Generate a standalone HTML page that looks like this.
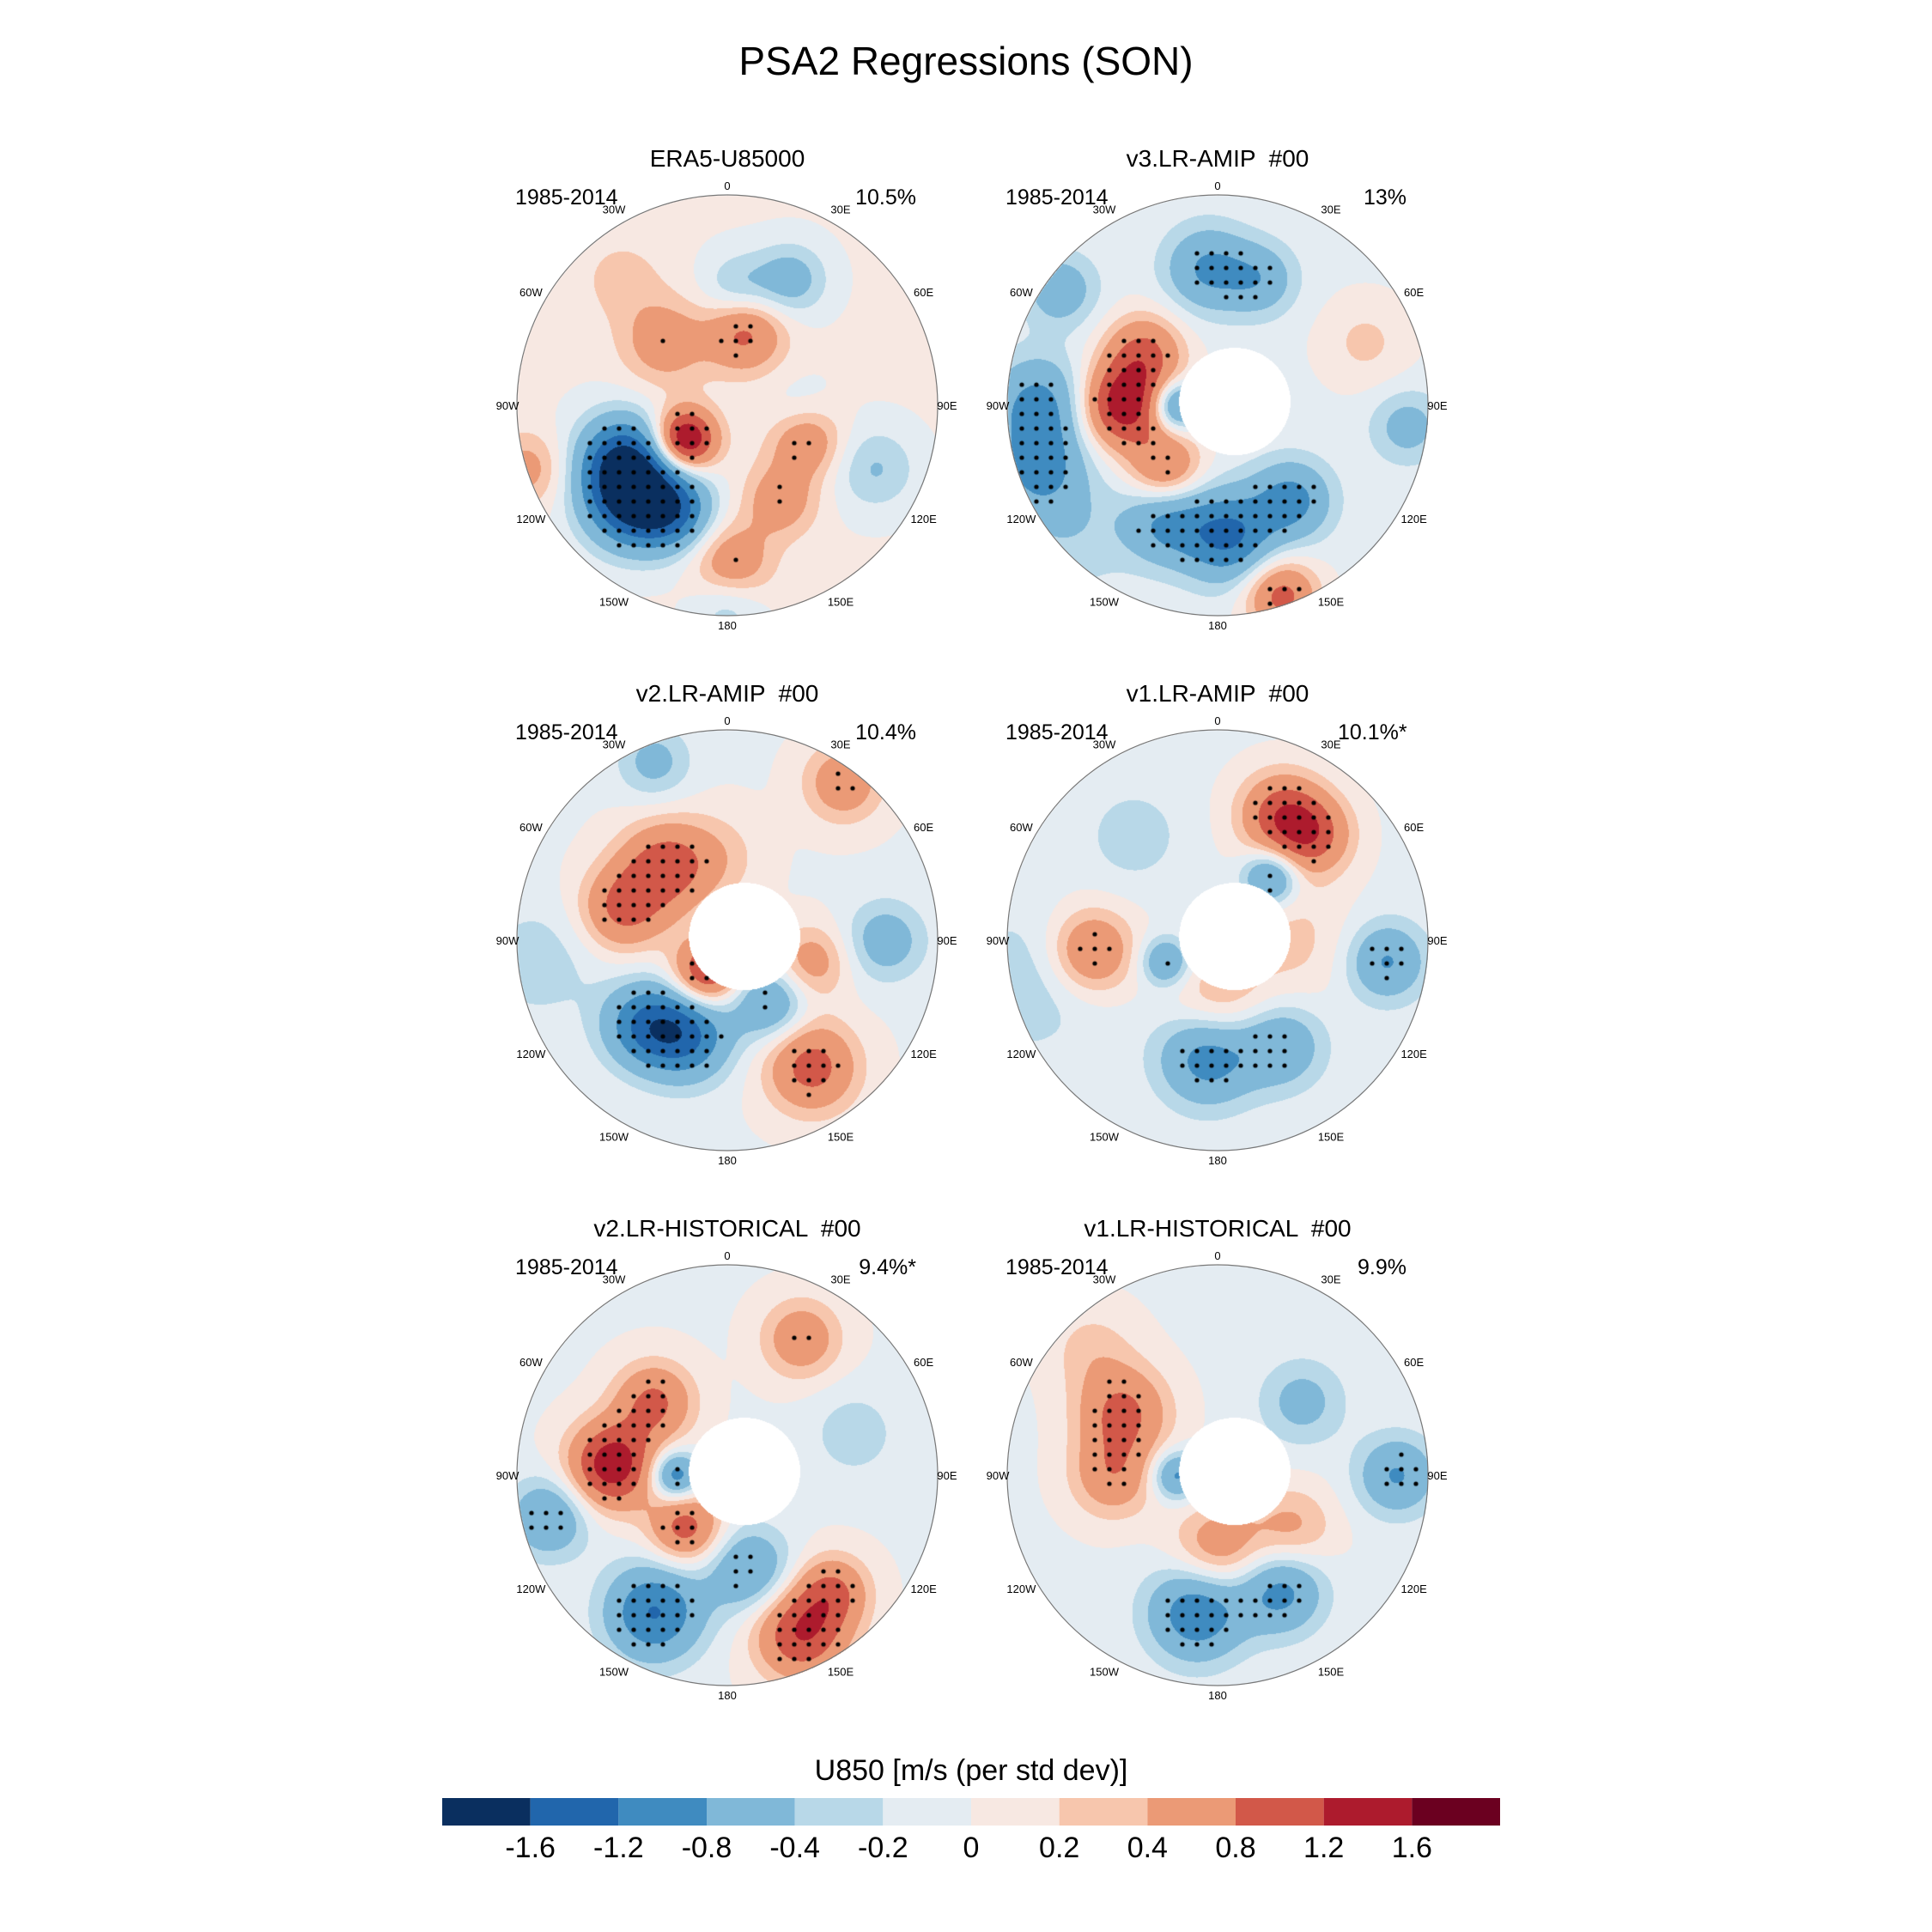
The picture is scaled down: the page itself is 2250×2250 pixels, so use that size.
<!DOCTYPE html>
<html><head><meta charset="utf-8">
<style>
html,body{margin:0;padding:0;background:#fff;}
#root{position:relative;width:2250px;height:2250px;overflow:hidden;font-family:"Liberation Sans",sans-serif;color:#000;}
.t{position:absolute;white-space:pre;}
</style></head>
<body>
<div id="root">
<div class="t" style="left:0;width:2250px;text-align:center;top:44px;font-size:46px;">PSA2 Regressions (SON)</div>
<svg id="svg" width="2250" height="2250" style="position:absolute;left:0;top:0"></svg>
</div>
<script>
// ---- colour scale data ----
const levels = [-1.6,-1.2,-0.8,-0.4,-0.2,0,0.2,0.4,0.8,1.2,1.6];
const levelLabels = ["-1.6","-1.2","-0.8","-0.4","-0.2","0","0.2","0.4","0.8","1.2","1.6"];
const colors = ["#0a2f5f","#2166ac","#3f8bc0","#80b8d8","#b8d8e8","#e4ecf2","#f7e8e2","#f7c6ad","#eb9a76","#d25849","#ad1b2d","#6b0020"];
// ---- panel data ----
const panelTitles = ["ERA5-U85000","v3.LR-AMIP  #00","v2.LR-AMIP  #00","v1.LR-AMIP  #00","v2.LR-HISTORICAL  #00","v1.LR-HISTORICAL  #00"];
const panelPeriods = ["1985-2014","1985-2014","1985-2014","1985-2014","1985-2014","1985-2014"];
const panelPercents = ["10.5%","13%","10.4%","10.1%*","9.4%*","9.9%"];
const panelHasLand = [false,true,true,true,true,true];
const panelBase = [0.03,-0.05,-0.02,-0.04,-0.02,-0.03];
const lonLabels = ["0","30E","60E","90E","120E","150E","180","150W","120W","90W","60W","30W"];
// anomaly centres (normalized map coords), amplitudes and widths per panel
const blobX = [
 [-0.5,-0.45,-0.25,-0.2,0.08,-0.3,0.3,0.05,0.37,0.25,0.02,-0.95,0.7,-0.5,0.35,0.0],
 [-0.85,-0.85,-0.45,-0.35,-0.25,-0.2,0.05,-0.25,0.35,0.3,-0.05,0.2,-0.75,0.9,0.7,-0.7],
 [-0.3,-0.5,-0.1,-0.2,-0.4,0.2,0.4,0.4,0.75,0.55,-0.35,-0.05,-0.9],
 [0.3,0.45,0.25,-0.6,-0.25,0.0,-0.05,0.3,0.8,-0.4,0.35,-0.9],
 [-0.55,-0.35,-0.2,-0.25,-0.85,-0.35,0.1,0.35,0.5,0.35,0.6],
 [-0.45,-0.5,-0.2,0.0,0.35,-0.1,0.3,0.85,0.4,-0.6]
];
const blobY = [
 [0.25,0.45,0.5,0.16,-0.35,-0.3,-0.6,-0.55,0.16,0.45,0.75,0.3,0.3,-0.6,0.05,0.95],
 [0.0,0.3,0.0,-0.25,0.3,0.0,0.62,0.55,0.45,0.9,-0.65,-0.6,-0.55,0.1,-0.3,0.6],
 [-0.35,-0.15,0.15,0.45,0.4,0.3,0.6,0.1,0.0,-0.75,-0.85,-0.4,0.1],
 [-0.6,-0.5,-0.3,0.05,0.1,0.3,0.55,0.5,0.1,-0.5,0.0,0.2],
 [-0.05,-0.35,0.25,0.0,0.2,0.65,0.45,0.75,0.55,-0.65,-0.2],
 [-0.3,0.0,0.0,0.35,0.25,0.65,0.55,0.0,-0.35,-0.6]
];
const blobAmp = [
 [-1.3,-1.7,-1.0,1.7,0.9,0.6,-0.6,-0.5,0.8,0.6,0.7,0.5,-0.45,0.25,-0.3,-0.4],
 [-0.9,-0.8,1.5,0.9,0.9,-1.1,-1.2,-0.8,-0.9,1.0,-0.8,-0.6,-0.6,-0.5,0.3,-0.3],
 [1.0,0.9,1.3,-1.2,-1.0,-0.8,1.0,0.6,-0.6,0.7,-0.5,0.3,-0.3],
 [1.0,0.9,-1.0,0.9,-0.8,0.5,-1.0,-0.7,-0.8,-0.3,0.3,-0.3],
 [1.5,0.9,1.0,-1.1,-0.8,-1.2,-0.8,1.2,0.8,0.7,-0.3],
 [0.9,0.7,-0.9,0.7,0.5,-1.1,-0.9,-0.8,-0.5,0.3]
];
const blobSig = [
 [0.15,0.16,0.13,0.1,0.13,0.14,0.12,0.12,0.12,0.12,0.13,0.12,0.14,0.15,0.12,0.12],
 [0.16,0.15,0.14,0.13,0.12,0.08,0.15,0.14,0.13,0.12,0.14,0.12,0.12,0.12,0.15,0.2],
 [0.15,0.14,0.11,0.15,0.14,0.12,0.15,0.12,0.13,0.13,0.12,0.15,0.2],
 [0.14,0.13,0.09,0.14,0.08,0.16,0.16,0.14,0.13,0.15,0.2,0.25],
 [0.14,0.13,0.12,0.08,0.13,0.16,0.14,0.15,0.12,0.13,0.15],
 [0.15,0.14,0.08,0.15,0.14,0.16,0.14,0.13,0.14,0.15]
];
const centersX = [847,1418,847,1418,847,1418];
const centersY = [472,472,1095,1095,1718,1718];
const R = 245;
const NS = "http://www.w3.org/2000/svg";
const svg = document.getElementById('svg');
const root = document.getElementById('root');

function field(p, nx, ny){
  let v = panelBase[p];
  for(let k=0;k<blobX[p].length;k++){
    const dx=nx-blobX[p][k], dy=ny-blobY[p][k], s=blobSig[p][k];
    v += blobAmp[p][k]*Math.exp(-(dx*dx+dy*dy)/(2*s*s));
  }
  return v;
}
function isLand(p,nx,ny){
  if(!panelHasLand[p]) return false;
  const lx=nx-0.08, ly=ny+0.02;
  return (lx*lx/0.07+ly*ly/0.065)<1;
}
function hex(c){return [parseInt(c.substr(1,2),16),parseInt(c.substr(3,2),16),parseInt(c.substr(5,2),16)];}
const rgb = colors.map(hex);

for(let p=0;p<6;p++){
  const cx=centersX[p], cy=centersY[p];
  const cv=document.createElement('canvas');
  cv.width=2*R; cv.height=2*R;
  cv.style.position='absolute'; cv.style.left=(cx-R)+'px'; cv.style.top=(cy-R)+'px';
  
  
  root.insertBefore(cv, svg);
  const ctx=cv.getContext('2d');
  const img=ctx.createImageData(2*R,2*R);
  for(let y=0;y<2*R;y++)for(let x=0;x<2*R;x++){
    const nx=(x-R)/R, ny=(y-R)/R;
    const o=(y*2*R+x)*4;
    if(nx*nx+ny*ny>1){img.data[o+3]=0;continue;}
    let c;
    if(isLand(p,nx,ny)){c=[255,255,255];}
    else{
      const v=field(p,nx,ny);
      let i=0; while(i<levels.length && v>=levels[i]) i++;
      c=rgb[i];
    }
    img.data[o]=c[0];img.data[o+1]=c[1];img.data[o+2]=c[2];img.data[o+3]=255;
  }
  ctx.putImageData(img,0,0);
  ctx.fillStyle='#000';
  const sp=17;
  for(let y=-R;y<=R;y+=sp)for(let x=-R;x<=R;x+=sp){
    const nx=x/R, ny=y/R;
    if(nx*nx+ny*ny>0.97) continue;
    if(isLand(p,nx,ny)) continue;
    if(Math.abs(field(p,nx,ny))>0.62){ctx.beginPath();ctx.arc(x+R,y+R,2.6,0,6.3);ctx.fill();}
  }
  const c=document.createElementNS(NS,'circle');
  c.setAttribute('cx',cx);c.setAttribute('cy',cy);c.setAttribute('r',R);
  c.setAttribute('fill','none');c.setAttribute('stroke','#777');c.setAttribute('stroke-width','1.2');
  
  
  svg.appendChild(c);
  const t=document.createElement('div');t.className='t';
  t.style.left=(cx-300)+'px';t.style.width='600px';t.style.textAlign='center';t.style.top=(cy-303)+'px';t.style.fontSize='28px';
  t.textContent=panelTitles[p];
  
  
  root.appendChild(t);
  const per=document.createElement('div');per.className='t';
  per.style.left=(cx-247)+'px';per.style.top=(cy-256)+'px';per.style.fontSize='25px';
  per.textContent=panelPeriods[p];
  
  
  root.appendChild(per);
  const pc=document.createElement('div');pc.className='t';
  pc.style.left=(cx+140)+'px';pc.style.width='80px';pc.style.textAlign='right';pc.style.top=(cy-256)+'px';pc.style.fontSize='25px';
  pc.textContent=panelPercents[p];
  
  
  root.appendChild(pc);
  for(let k=0;k<12;k++){
    const a=k*Math.PI/6, rl=(k%3===0)?256:264;
    const tx=document.createElementNS(NS,'text');
    tx.setAttribute('x',cx+rl*Math.sin(a));tx.setAttribute('y',cy-rl*Math.cos(a)+5);
    tx.setAttribute('text-anchor','middle');tx.setAttribute('font-size','13');
    tx.setAttribute('font-family','Liberation Sans, sans-serif');
    tx.textContent=lonLabels[k];
    
    
    svg.appendChild(tx);
  }
}
const cbL=515, cbR=1747, cbT=2094, cbB=2126;
const w=(cbR-cbL)/colors.length;
for(let i=0;i<colors.length;i++){
  const r=document.createElementNS(NS,'rect');
  r.setAttribute('x',cbL+i*w);r.setAttribute('y',cbT);r.setAttribute('width',w);r.setAttribute('height',cbB-cbT);
  r.setAttribute('fill',colors[i]);
  
  
  svg.appendChild(r);
}
for(let i=0;i<levelLabels.length;i++){
  const tx=document.createElementNS(NS,'text');
  tx.setAttribute('x',cbL+(i+1)*w);tx.setAttribute('y',2163);
  tx.setAttribute('text-anchor','middle');tx.setAttribute('font-size','34');
  tx.setAttribute('font-family','Liberation Sans, sans-serif');
  tx.textContent=levelLabels[i];
  
  
  svg.appendChild(tx);
}
const ct=document.createElementNS(NS,'text');
ct.setAttribute('x',1131);ct.setAttribute('y',2073);ct.setAttribute('text-anchor','middle');ct.setAttribute('font-size','34');
ct.setAttribute('font-family','Liberation Sans, sans-serif');
ct.textContent='U850 [m/s (per std dev)]';


svg.appendChild(ct);
</script>
</body></html>
